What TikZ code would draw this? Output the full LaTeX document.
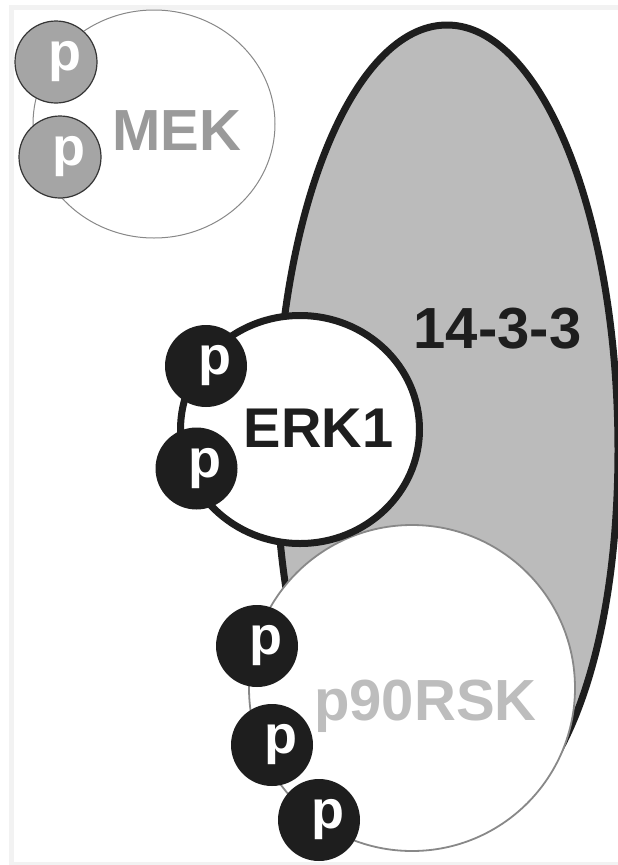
\documentclass[tikz,border=0pt]{standalone}
\usepackage{fontspec}
\setmainfont{Liberation Sans}
\definecolor{dark}{HTML}{1E1E1E}
\definecolor{grayfill}{HTML}{BBBBBB}
\definecolor{mekp}{HTML}{A5A5A5}
\definecolor{mekline}{HTML}{888888}
\definecolor{mektext}{HTML}{9A9A9A}
\definecolor{rskline}{HTML}{888888}
\definecolor{rsktext}{HTML}{BDBDBD}
\definecolor{framegray}{HTML}{F2F2F2}
\newcommand{\pmark}{\kern17pt p}
\begin{document}
\begin{tikzpicture}[x=1pt,y=-1pt,
  darkp/.style={circle, fill=dark, minimum size=82pt, inner sep=0pt, text=white,
    font=\fontsize{54}{54}\selectfont\bfseries},
  grayp/.style={circle, fill=mekp, draw=dark!90, line width=1.2pt, minimum size=82pt, inner sep=0pt, text=white,
    font=\fontsize{54}{54}\selectfont\bfseries},
  lbl/.style={font=\fontsize{58}{58}\selectfont\bfseries, anchor=base, inner sep=0pt}]
\useasboundingbox (0,0) rectangle (618,865);
\draw[framegray, line width=5pt] (11.5,7.5) rectangle (621,864.5);
% 14-3-3 (egg shape, lower part tucked under p90RSK)
\draw[fill=grayfill, draw=dark, line width=7pt]
  (618,450) .. controls (618,680) and (547,835) .. (447,835)
  .. controls (353,835) and (276,685) .. (276,450)
  arc[start angle=180, end angle=0, x radius=171pt, y radius=425pt] -- cycle;
% MEK
\draw[fill=white, draw=mekline, line width=1pt] (154,124) ellipse [x radius=121pt, y radius=114pt];
% p90RSK
\draw[fill=white, draw=rskline, line width=1.8pt] (412,688) circle [radius=163pt];
% ERK1
\draw[fill=white, draw=dark, line width=7pt] (300,429.5) ellipse [x radius=119.5pt, y radius=114pt];
% labels
\node[lbl, text=mektext] (mek) at (177,150) {MEK};
\node[lbl, text=dark, font=\fontsize{56}{56}\selectfont\bfseries] (erk) at (318.5,447) {ERK1};
\node[lbl, text=dark] (t1433) at (497.5,348) {14-3-3};
\node[lbl, text=rsktext] (rsk) at (425.5,720) {p90RSK};
% phosphates
\node[grayp] (mp1) at (56,62) {\pmark};
\node[grayp] (mp2) at (60,157) {\pmark};
\node[darkp] (ep1) at (206,366) {\pmark};
\node[darkp] (ep2) at (196.5,468.5) {\pmark};
\node[darkp] (rp1) at (257,646) {\pmark};
\node[darkp] (rp2) at (272,745) {\pmark};
\node[darkp] (rp3) at (319,820) {\pmark};
\end{tikzpicture}
\end{document}
